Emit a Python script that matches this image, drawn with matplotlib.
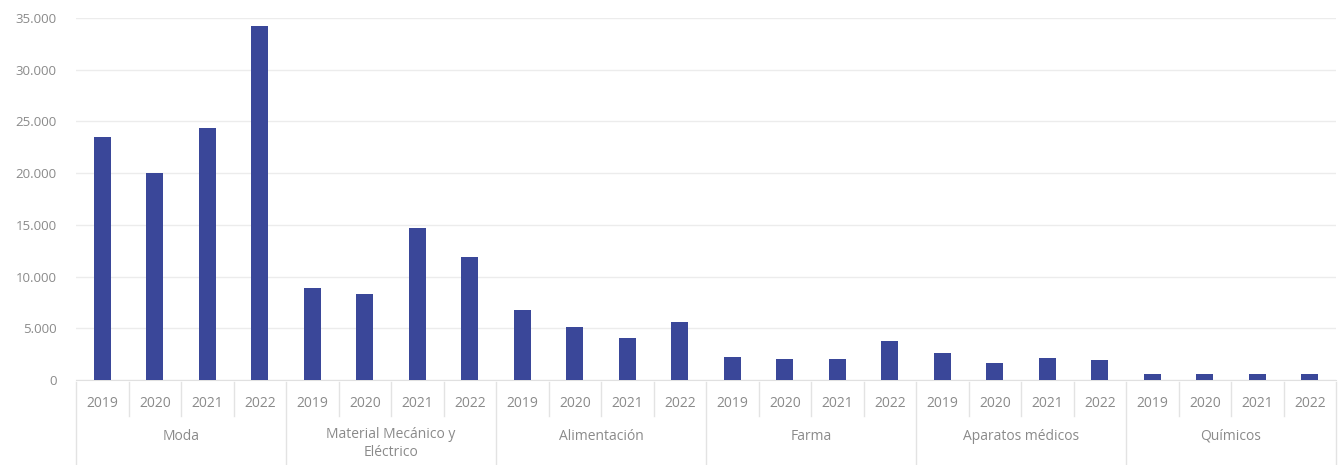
import matplotlib.pyplot as plt
import matplotlib.transforms as mtransforms
from matplotlib.ticker import FuncFormatter

sectors = ["Moda", "Material Mecánico y\nEléctrico", "Alimentación", "Farma",
           "Aparatos médicos", "Químicos"]
years = ["2019", "2020", "2021", "2022"]

moda = [23500, 20000, 24400, 34200]
material = [8900, 8300, 14700, 11900]
alimentacion = [6800, 5100, 4100, 5600]
farma = [2200, 2000, 2000, 3800]
aparatos = [2600, 1600, 2100, 1900]
quimicos = [600, 600, 600, 600]

series = [moda, material, alimentacion, farma, aparatos, quimicos]
values = [v for s in series for v in s]
n = len(values)

plt.rcParams['font.family'] = ['Open Sans', 'DejaVu Sans']

fig = plt.figure(figsize=(13.44, 4.65), dpi=100)
ax = fig.add_axes([76 / 1344, 1 - 380 / 465, 1260 / 1344, 362 / 465])

ax.bar(range(n), values, width=0.33, color='#3a4799', zorder=3)
ax.set_xlim(-0.5, n - 0.5)
ax.set_ylim(0, 35000)
ax.set_yticks(range(0, 35001, 5000))
ax.yaxis.set_major_formatter(FuncFormatter(lambda v, p: f"{int(v):,}".replace(",", ".")))
ax.tick_params(axis='y', length=0, pad=14, labelsize=9.5, labelcolor='#8a8a8a')
ax.set_xticks([])
ax.grid(axis='y', color='#ececec', linewidth=1, zorder=0)
for side in ['top', 'right', 'left']:
    ax.spines[side].set_visible(False)
ax.spines['bottom'].set_color('#e0e0e0')

# category axis: year row and sector row below the plot
trans = mtransforms.blended_transform_factory(ax.transData, fig.transFigure)
y_top = 1 - 382 / 465
y_mid = 1 - 416 / 465
y_bot = 0.0
line_kw = dict(color='#e3e3e3', linewidth=1, transform=trans, clip_on=False)
for i, y in enumerate(years * len(sectors)):
    ax.text(i, 1 - 403 / 465, y, transform=trans, ha='center', va='center',
            fontsize=10, color='#8a8a8a')
    if i % 4 != 0:
        ax.plot([i - 0.5, i - 0.5], [y_top, y_mid], **line_kw)
for g, name in enumerate(sectors):
    x0 = g * 4 - 0.5
    ax.plot([x0, x0], [y_top, y_bot], **line_kw)
    if '\n' in name:
        ax.text(x0 + 2, 1 - 427 / 465, name, transform=trans, ha='center',
                va='top', fontsize=10, color='#8a8a8a', linespacing=1.3)
    else:
        ax.text(x0 + 2, 1 - 436 / 465, name, transform=trans, ha='center',
                va='center', fontsize=10, color='#8a8a8a')
ax.plot([n - 0.5, n - 0.5], [y_top, y_bot], **line_kw)

fig.savefig('out.png', dpi=100, facecolor='white')
